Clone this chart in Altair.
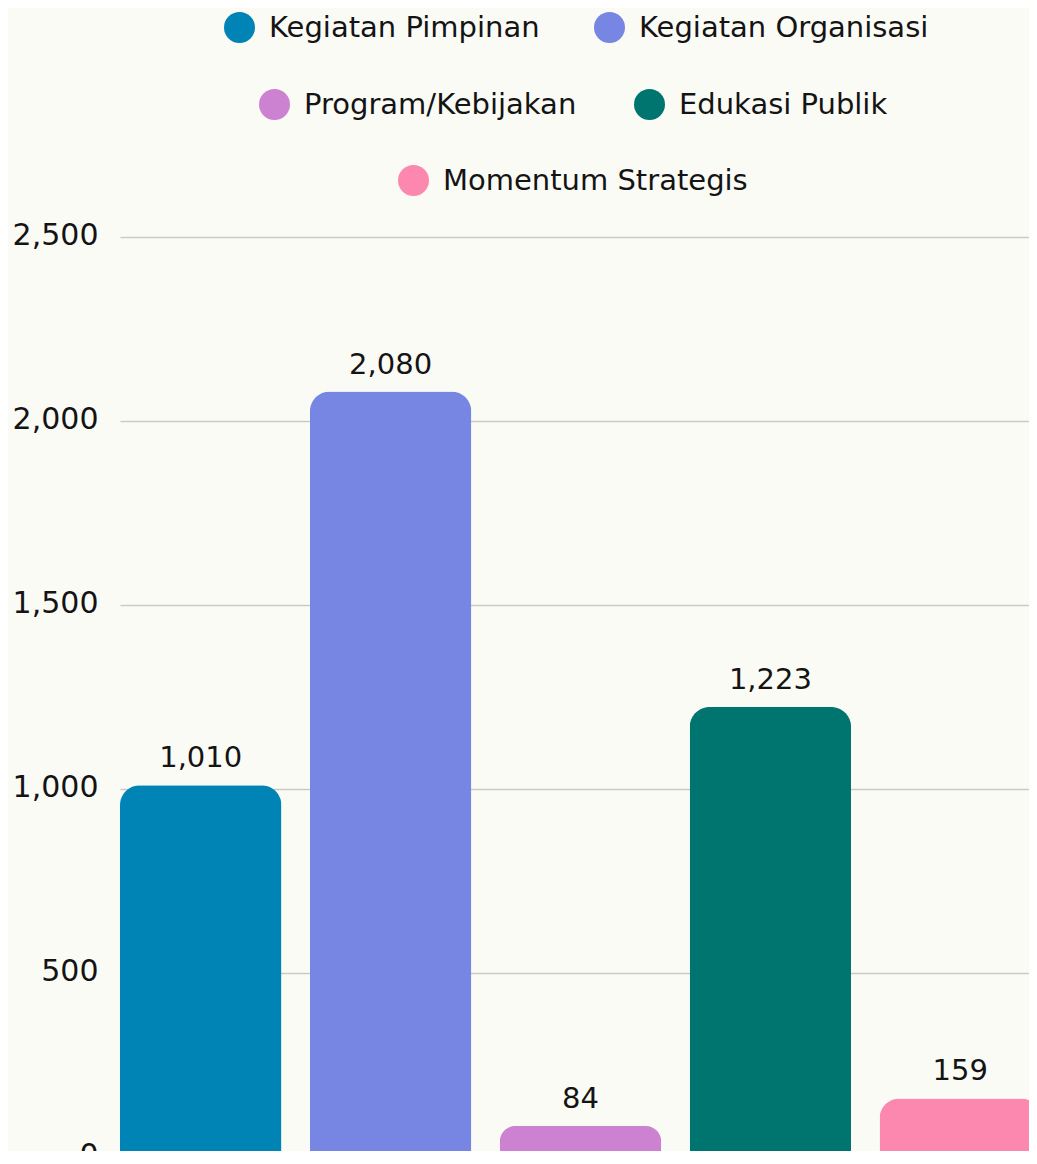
import altair as alt
import pandas as pd

categories = ["Kegiatan Pimpinan", "Kegiatan Organisasi", "Program/Kebijakan",
              "Edukasi Publik", "Momentum Strategis"]
values = [1010, 2080, 84, 1223, 159]
colors = ["#0083B5", "#7886E3", "#CC81D1", "#007570", "#FC88B0"]
y_ticks = [0, 500, 1000, 1500, 2000, 2500]
legend_rows = [[0, 1], [2, 3], [4]]

FONT = "DejaVu Sans"
TXT = "#141414"
FS = 29

df = pd.DataFrame({"category": categories, "value": values})

x_enc = alt.X("category:N", sort=categories,
              scale=alt.Scale(domain=categories, paddingInner=0.15, paddingOuter=0),
              axis=alt.Axis(labels=False, ticks=False, title=None, grid=False,
                            domain=True, domainColor="#8a8a8a", domainWidth=1.5))
y_enc = alt.Y("value:Q",
              scale=alt.Scale(domain=[0, 2500], nice=False),
              axis=alt.Axis(values=y_ticks, format=",.0f", title=None, ticks=False,
                            domain=False, grid=True, gridColor="#c9c9c9", gridWidth=1.5,
                            labelFont=FONT, labelFontSize=30, labelColor=TXT,
                            labelPadding=22, labelOffset=-2))

# legend placement (style): (x, y, column padding) per legend row
legend_pos = [(104, -225, 54), (139, -148, 57), (278, -72, 57)]

layers = []
for (lx, ly, cp), idx in zip(legend_pos, legend_rows):
    dom = [categories[i] for i in idx]
    rng = [colors[i] for i in idx]
    layer = alt.Chart(df).transform_filter(
        alt.FieldOneOfPredicate(field="category", oneOf=dom)
    ).mark_bar(cornerRadiusTopLeft=20, cornerRadiusTopRight=20).encode(
        x=x_enc, y=y_enc,
        color=alt.Color("category:N",
                        scale=alt.Scale(domain=dom, range=rng),
                        legend=alt.Legend(orient="none", legendX=lx, legendY=ly,
                                          direction="horizontal", title=None,
                                          symbolType="circle", symbolSize=961,
                                          symbolStrokeWidth=0, symbolOpacity=1,
                                          labelFont=FONT, labelFontSize=FS,
                                          labelColor=TXT, labelOffset=14,
                                          labelLimit=500, columnPadding=cp,
                                          padding=0))
    )
    layers.append(layer)

labels = alt.Chart(df).mark_text(dy=-18, baseline="alphabetic", fontSize=FS,
                                 font=FONT, color=TXT).encode(
    x=x_enc, y=y_enc, text=alt.Text("value:Q", format=",.0f")
)
layers.append(labels)

chart = alt.layer(*layers).resolve_scale(color="independent").properties(
    width=921, height=920,
    autosize=alt.AutoSizeParams(type="none"),
    padding={"left": 112, "top": 229, "right": -12, "bottom": -6},
    background="#FBFBF6",
).configure_view(stroke=None)

chart.save("out.html", embed_options={"renderer": "svg", "actions": False})
